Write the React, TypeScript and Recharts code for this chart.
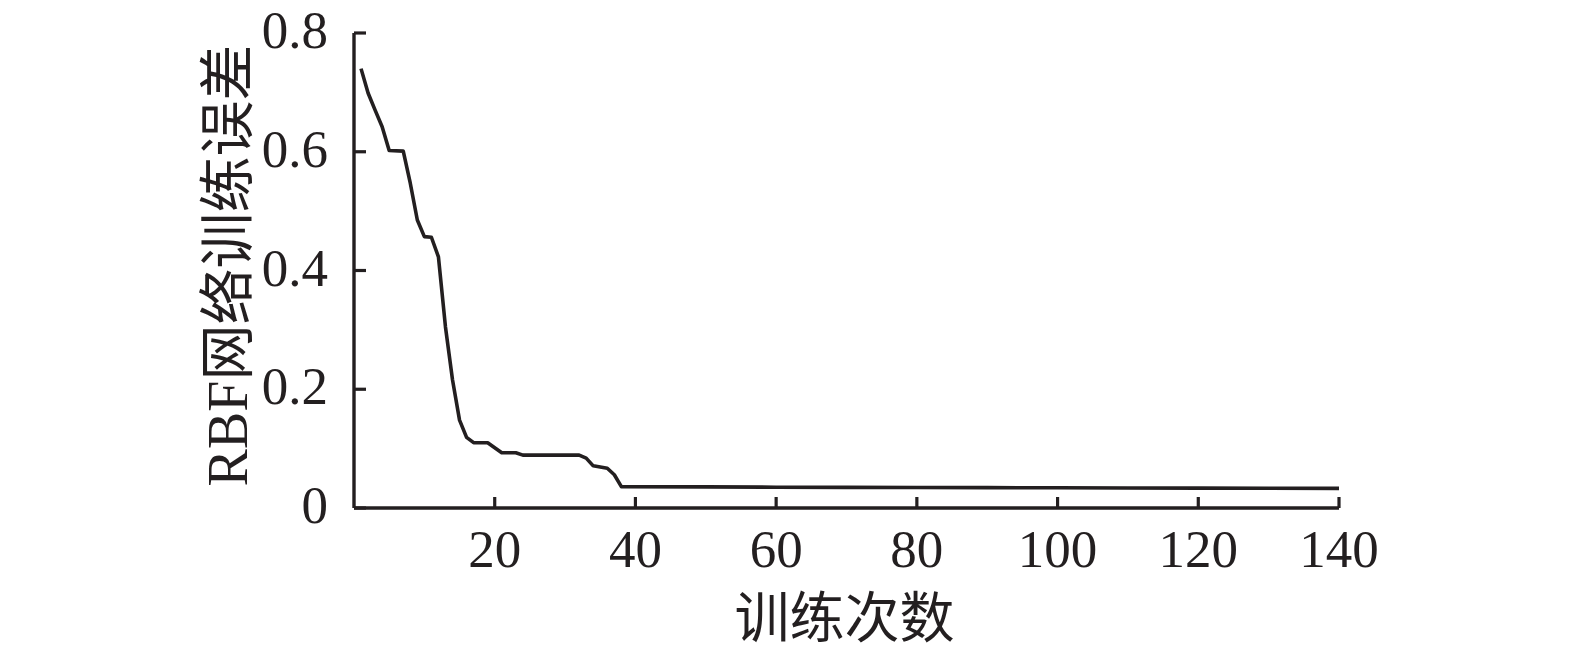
import { Line, LineChart, XAxis, YAxis, Label } from "recharts";

const iterations = [
  1, 2, 3, 4, 5, 7, 8, 9, 10, 11, 12, 13, 14, 15, 16, 17, 19, 21, 23, 24, 32, 33, 34, 36, 37, 38, 50,
  60, 70, 80, 90, 100, 110, 120, 130, 140,
];
const trainError = [
  0.74, 0.699, 0.67, 0.642, 0.602, 0.601, 0.547, 0.485, 0.457, 0.456, 0.423, 0.305, 0.216, 0.148,
  0.119, 0.11, 0.11, 0.093, 0.093, 0.089, 0.089, 0.084, 0.071, 0.067, 0.056, 0.036, 0.0355, 0.035,
  0.0348, 0.0345, 0.0343, 0.034, 0.0338, 0.0335, 0.0333, 0.033,
];
const xTicks = [20, 40, 60, 80, 100, 120, 140];
const yTicks = [0, 0.2, 0.4, 0.6, 0.8];

const xTitle = "训练次数";
const yTitle = "RBF网络训练误差";

const INK = "#231f20";
const FONT = '"Liberation Serif", "Noto Sans CJK SC", serif';

const data = iterations.map((n, i) => ({ n, err: trainError[i] }));

// ticks point inward, so each tick draws its own mark plus the label
function XTick({ x, y, payload }: any) {
  return (
    <g>
      <line x1={x} y1={y} x2={x} y2={y - 11} stroke={INK} strokeWidth={3.2} />
      <text x={x} y={y + 59} textAnchor="middle" fill={INK} fontSize={53} fontFamily={FONT}>
        {payload.value}
      </text>
    </g>
  );
}

function YTick({ x, y, payload }: any) {
  const v = payload.value as number;
  return (
    <g>
      <line x1={x} y1={y} x2={x + 12} y2={y} stroke={INK} strokeWidth={3.2} />
      <text x={x - 26} y={y + 15} textAnchor="end" fill={INK} fontSize={53} fontFamily={FONT}>
        {v === 0 ? "0" : v.toFixed(1)}
      </text>
    </g>
  );
}

export default function App() {
  return (
    <div style={{ position: "absolute", left: 0, top: 0, width: 1575, height: 656, background: "#fff" }}>
      <LineChart width={1575} height={656} data={data} margin={{ top: 33, right: 236, bottom: 0, left: 0 }}>
        <XAxis
          dataKey="n"
          type="number"
          domain={[0, 140]}
          ticks={xTicks}
          interval={0}
          height={148}
          tickSize={0}
          tickMargin={0}
          tickLine={false}
          axisLine={{ stroke: INK, strokeWidth: 3.4 }}
          tick={<XTick />}
        >
          <Label
            content={({ viewBox }: any) => (
              <text
                x={viewBox.x + viewBox.width / 2 - 2}
                y={viewBox.y + 129}
                textAnchor="middle"
                fill={INK}
                fontSize={55}
                fontFamily={FONT}
              >
                {xTitle}
              </text>
            )}
          />
        </XAxis>
        <YAxis
          type="number"
          domain={[0, 0.8]}
          ticks={yTicks}
          interval={0}
          width={354}
          tickSize={0}
          tickMargin={0}
          tickLine={false}
          axisLine={{ stroke: INK, strokeWidth: 3.4 }}
          tick={<YTick />}
        >
          <Label
            content={({ viewBox }: any) => {
              const cx = 228;
              const cy = viewBox.y + viewBox.height / 2 - 5;
              return (
                <text
                  x={cx}
                  y={cy}
                  transform={`rotate(-90 ${cx} ${cy})`}
                  textAnchor="middle"
                  dominantBaseline="central"
                  fill={INK}
                  fontSize={56}
                  fontFamily={FONT}
                >
                  {yTitle}
                </text>
              );
            }}
          />
        </YAxis>
        <Line
          dataKey="err"
          type="linear"
          stroke={INK}
          strokeWidth={3.6}
          strokeLinejoin="round"
          dot={false}
          isAnimationActive={false}
        />
      </LineChart>
    </div>
  );
}
